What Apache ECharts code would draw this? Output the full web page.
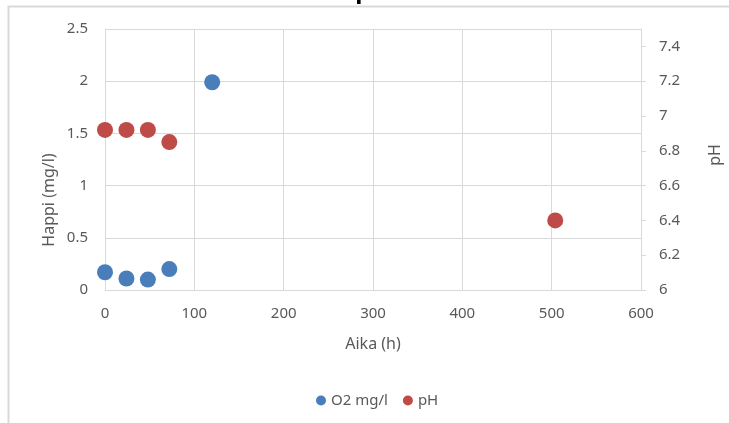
<!DOCTYPE html>
<html>
<head>
<meta charset="utf-8">
<script src="https://cdn.jsdelivr.net/npm/echarts@6/dist/echarts.min.js"></script>
<style>
  html, body { margin: 0; padding: 0; background: #fff; }
  #chart { width: 729px; height: 423px; }
</style>
</head>
<body>
<div id="chart"></div>
<script>
// Measurements: time in hours, dissolved oxygen (mg/l) and pH
const o2Hours = [0, 24, 48, 72, 120];
const o2Values = [0.17, 0.11, 0.10, 0.20, 1.99];
const phHours = [0, 24, 48, 72, 504];
const phValues = [6.92, 6.92, 6.92, 6.85, 6.40];
const phTicks = [6, 6.2, 6.4, 6.6, 6.8, 7, 7.2, 7.4];

const FONT = 'Noto Sans';
const TEXT = '#595959';
const GRID = '#d9d9d9';

const chart = echarts.init(document.getElementById('chart'), null, { renderer: 'canvas' });

chart.setOption({
  animation: false,
  backgroundColor: '#fff',
  textStyle: { fontFamily: FONT },
  grid: { left: 105, right: 88, top: 29, bottom: 133 },
  xAxis: {
    type: 'value',
    min: 0, max: 600, interval: 100,
    name: 'Aika (h)',
    nameLocation: 'middle',
    nameGap: 46,
    nameTextStyle: { color: TEXT, fontSize: 16, fontFamily: FONT },
    axisLine: { show: true, lineStyle: { color: GRID, width: 1 } },
    axisTick: { show: false },
    axisLabel: { color: TEXT, fontSize: 15, margin: 16, fontFamily: FONT },
    splitLine: { show: true, lineStyle: { color: GRID, width: 1 } }
  },
  yAxis: [
    {
      type: 'value',
      min: 0, max: 2.5, interval: 0.5,
      axisLine: { show: true, lineStyle: { color: GRID, width: 1 } },
      axisTick: { show: false },
      axisLabel: { color: TEXT, fontSize: 15, margin: 17, fontFamily: FONT },
      splitLine: { show: true, lineStyle: { color: GRID, width: 1 } }
    },
    {
      type: 'value',
      position: 'right',
      min: 6, max: 7.5, interval: 0.2,
      axisLine: { show: true, lineStyle: { color: GRID, width: 1 } },
      axisTick: { show: true, length: 5, lineStyle: { color: GRID }, customValues: phTicks },
      axisLabel: { color: TEXT, fontSize: 15, margin: 18, fontFamily: FONT, customValues: phTicks },
      splitLine: { show: false }
    }
  ],
  legend: {
    left: 311, top: 388,
    icon: 'circle',
    itemWidth: 10, itemHeight: 10,
    itemGap: 15,
    textStyle: { color: TEXT, fontSize: 15, fontFamily: FONT },
    data: ['O2 mg/l', 'pH']
  },
  graphic: [
    {
      type: 'rect', silent: true, z: 0,
      shape: { x: 8.5, y: 6.5, width: 760, height: 460 },
      style: { fill: null, stroke: GRID, lineWidth: 2 }
    },
    {
      type: 'text', silent: true, z: 10,
      x: 372, y: -9,
      style: { text: 'pH', fill: '#000', font: 'bold 24px "' + FONT + '"', align: 'center', verticalAlign: 'middle' }
    },
    {
      type: 'text', silent: true,
      x: 49, y: 200, rotation: Math.PI / 2,
      style: { text: 'Happi (mg/l)', fill: TEXT, font: '16px "' + FONT + '"', align: 'center', verticalAlign: 'middle' }
    },
    {
      type: 'text', silent: true,
      x: 715, y: 155, rotation: Math.PI / 2,
      style: { text: 'pH', fill: TEXT, font: '16px "' + FONT + '"', align: 'center', verticalAlign: 'middle' }
    }
  ],
  series: [
    {
      name: 'O2 mg/l',
      type: 'scatter',
      yAxisIndex: 0,
      symbol: 'circle',
      symbolSize: 16,
      itemStyle: { color: '#4A7EBB', opacity: 1 },
      data: o2Hours.map((h, i) => [h, o2Values[i]])
    },
    {
      name: 'pH',
      type: 'scatter',
      yAxisIndex: 1,
      symbol: 'circle',
      symbolSize: 16,
      itemStyle: { color: '#BE4B48', opacity: 1 },
      data: phHours.map((h, i) => [h, phValues[i]])
    }
  ]
});
</script>
</body>
</html>
